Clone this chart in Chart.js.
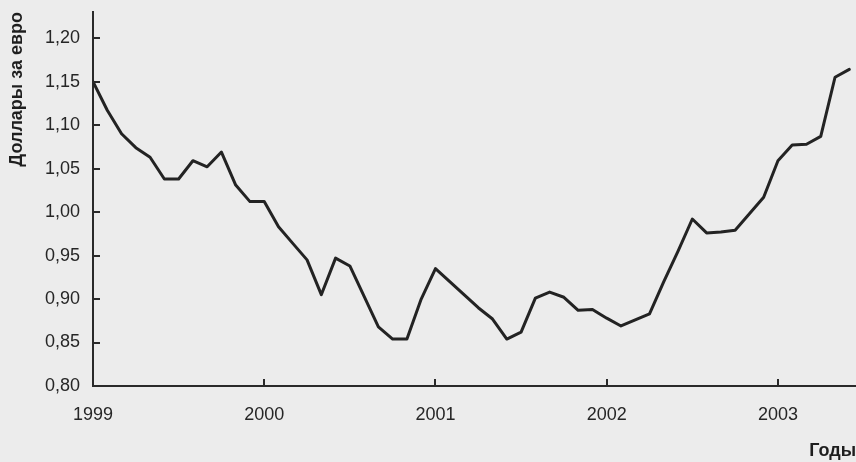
<!DOCTYPE html>
<html lang="ru">
<head>
<meta charset="utf-8">
<title>Курс евро к доллару, 1999–2003</title>
<script src="https://cdn.jsdelivr.net/npm/chart.js@4/dist/chart.umd.min.js"></script>
<style>
  html, body { margin: 0; padding: 0; background: #ececec; }
  #wrap { width: 856px; height: 462px; }
</style>
</head>
<body>
<div id="wrap"><canvas id="chart" width="856" height="462"></canvas></div>
<script>
// Monthly average exchange rate, US dollars per euro, from January 1999.
const years = ['1999', '2000', '2001', '2002', '2003'];
const rates1999 = [1.150, 1.117, 1.090, 1.074, 1.063, 1.038, 1.038, 1.059, 1.052, 1.069, 1.031, 1.012];
const rates2000 = [1.012, 0.983, 0.964, 0.945, 0.905, 0.947, 0.938, 0.903, 0.868, 0.854, 0.854, 0.900];
const rates2001 = [0.935, 0.920, 0.905, 0.890, 0.877, 0.854, 0.862, 0.901, 0.908, 0.902, 0.887, 0.888];
const rates2002 = [0.878, 0.869, 0.876, 0.883, 0.920, 0.955, 0.992, 0.976, 0.977, 0.979, 0.998, 1.017];
const rates2003 = [1.059, 1.077, 1.078, 1.087, 1.155, 1.164];
const yTicks = [0.80, 0.85, 0.90, 0.95, 1.00, 1.05, 1.10, 1.15, 1.20];

const rates = [].concat(rates1999, rates2000, rates2001, rates2002, rates2003);
const points = rates.map((v, i) => ({ x: i, y: v }));

const INK = '#2a2a2a';
const LABEL = '#262626';
const FONT = '"Liberation Sans", Arial, Helvetica, sans-serif';

// Page background
const paper = {
  id: 'paper',
  beforeDraw(chart) {
    const { ctx, width, height } = chart;
    ctx.save();
    ctx.fillStyle = '#ececec';
    ctx.fillRect(0, 0, width, height);
    ctx.restore();
  }
};

// Short tick marks pointing into the plot from both axes
const innerTicks = {
  id: 'innerTicks',
  afterDraw(chart) {
    const { ctx, scales: { x, y } } = chart;
    const len = 7;
    ctx.save();
    ctx.strokeStyle = INK;
    ctx.lineWidth = 2;
    ctx.beginPath();
    y.ticks.forEach(t => {
      if (t.value <= y.min) return;
      const py = Math.round(y.getPixelForValue(t.value));
      ctx.moveTo(x.left, py);
      ctx.lineTo(x.left + len, py);
    });
    x.ticks.forEach(t => {
      if (t.value <= x.min) return;
      const px = Math.round(x.getPixelForValue(t.value));
      ctx.moveTo(px, y.bottom);
      ctx.lineTo(px, y.bottom - len);
    });
    ctx.stroke();
    ctx.restore();
  }
};

new Chart(document.getElementById('chart'), {
  type: 'line',
  data: {
    datasets: [{
      data: points,
      borderColor: '#232323',
      borderWidth: 3,
      pointRadius: 0,
      tension: 0,
      borderJoinStyle: 'round',
      borderCapStyle: 'round',
      fill: false
    }]
  },
  options: {
    responsive: false,
    animation: false,
    layout: { padding: { top: 12, right: 0, left: 0, bottom: 0 } },
    plugins: {
      legend: { display: false },
      tooltip: { enabled: false }
    },
    scales: {
      x: {
        type: 'linear',
        min: 0,
        max: 53.47,
        afterBuildTicks(scale) {
          scale.ticks = years.map((_, i) => ({ value: i * 12 }));
        },
        afterFit(scale) {
          scale.height = 76;
          scale.paddingLeft = 0;
          scale.paddingRight = 0;
        },
        grid: { display: false, drawTicks: false },
        border: { display: true, color: INK, width: 2 },
        ticks: {
          padding: 18,
          color: LABEL,
          font: { family: FONT, size: 18 },
          maxRotation: 0,
          callback: (v) => years[Math.round(v / 12)]
        },
        title: {
          display: true,
          text: 'Годы',
          align: 'end',
          color: '#1e1e1e',
          font: { family: FONT, size: 18, weight: 'bold' },
          padding: { top: 0, bottom: 0 }
        }
      },
      y: {
        min: 0.80,
        max: 1.23,
        afterBuildTicks(scale) {
          scale.ticks = yTicks.map(v => ({ value: v }));
        },
        afterFit(scale) {
          scale.width = 93;
          scale.paddingTop = 0;
          scale.paddingBottom = 0;
        },
        grid: { display: false, drawTicks: false },
        border: { display: true, color: INK, width: 2 },
        ticks: {
          padding: 13,
          color: LABEL,
          font: { family: FONT, size: 18 },
          callback: (v) => v.toFixed(2).replace('.', ',')
        },
        title: {
          display: true,
          text: 'Доллары за евро',
          align: 'end',
          color: '#1e1e1e',
          font: { family: FONT, size: 18, weight: 'bold' },
          padding: { top: 6, bottom: 0 }
        }
      }
    }
  },
  plugins: [paper, innerTicks]
});
</script>
</body>
</html>
